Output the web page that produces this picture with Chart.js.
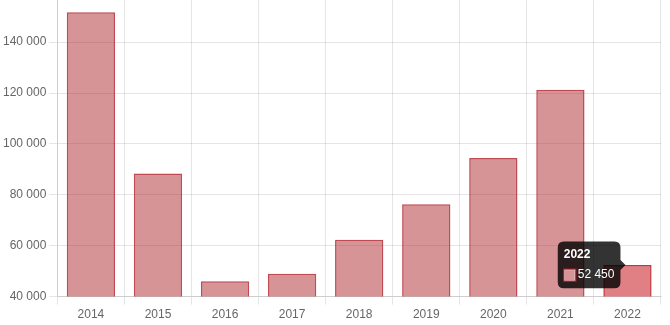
<!DOCTYPE html>
<html>
<head>
<meta charset="utf-8">
<style>
  html, body { margin: 0; padding: 0; background: #fff; overflow: hidden; }
  #outer { width: 670px; height: 325px; position: relative; overflow: hidden; }
  #wrap { width: 670px; height: 335px; position: absolute; left: 0; top: -10px; }
</style>
<script src="https://cdn.jsdelivr.net/npm/chart.js@4/dist/chart.umd.min.js"></script>
</head>
<body>
<div id="outer"><div id="wrap"><canvas id="c"></canvas></div></div>
<script>
const categories = ['2014', '2015', '2016', '2017', '2018', '2019', '2020', '2021', '2022'];
const values = [151800, 88400, 46000, 49000, 62300, 76300, 94500, 121300, 52450];
const yTickValues = [40000, 60000, 80000, 100000, 120000, 140000];

function fmt(v) {
  return String(Math.round(v)).replace(/\B(?=(\d{3})+(?!\d))/g, ' ');
}

Chart.defaults.font.family = "'Liberation Sans', Arial, sans-serif";
Chart.defaults.font.size = 12;
Chart.defaults.color = '#666';

const chart = new Chart(document.getElementById('c'), {
  type: 'bar',
  data: {
    labels: categories,
    datasets: [{
      data: values,
      backgroundColor: 'rgba(173, 41, 48, 0.5)',
      borderColor: 'rgba(175, 30, 40, 0.8)',
      borderWidth: 1.5,
      hoverBackgroundColor: 'rgba(193, 1, 9, 0.5)',
      hoverBorderColor: 'rgba(185, 20, 30, 0.85)'
    }]
  },
  options: {
    responsive: true,
    maintainAspectRatio: false,
    animation: false,
    layout: { padding: { left: 0, right: 9, top: 0, bottom: 0 } },
    plugins: {
      legend: { display: false },
      tooltip: {
        callbacks: {
          label: (ctx) => fmt(ctx.parsed.y)
        }
      }
    },
    scales: {
      x: {
        grid: { color: 'rgba(0,0,0,0.1)' },
        ticks: { color: '#666' }
      },
      y: {
        min: 40000,
        max: 156500,
        afterBuildTicks: (axis) => {
          axis.ticks = yTickValues.map(v => ({ value: v }));
        },
        grid: { color: 'rgba(0,0,0,0.1)' },
        ticks: {
          color: '#666',
          callback: (v) => fmt(v)
        }
      }
    }
  }
});

const active = [{ datasetIndex: 0, index: 8 }];
chart.setActiveElements(active);
const meta = chart.getDatasetMeta(0).data[8];
chart.tooltip.setActiveElements(active, { x: meta.x, y: meta.y });
chart.update();
</script>
</body>
</html>
